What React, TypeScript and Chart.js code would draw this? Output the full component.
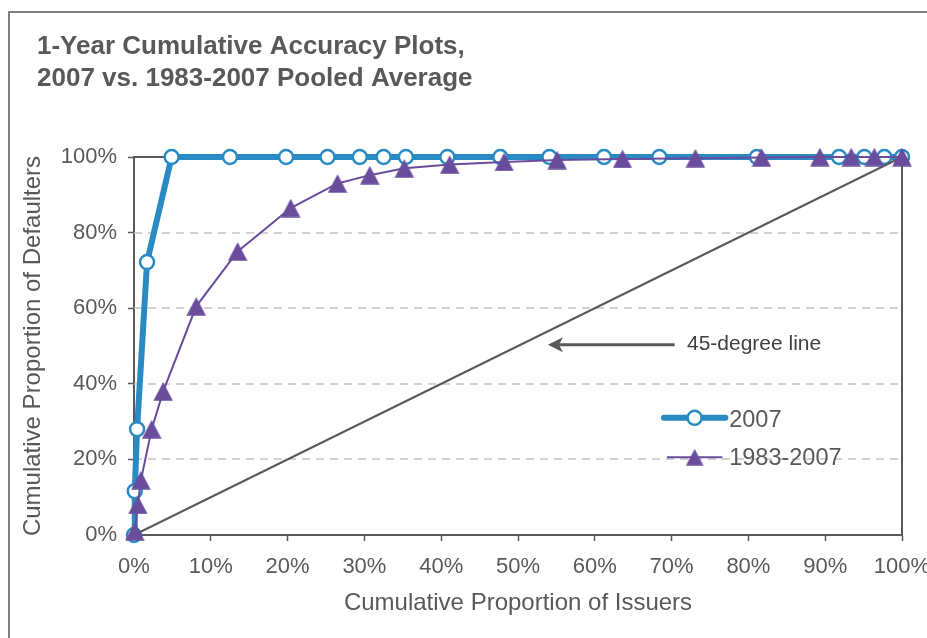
import React, { useEffect, useRef } from 'react';
import { Chart, registerables } from 'chart.js';

Chart.register(...registerables);

// ---------- data ----------
const chartTitle = ['1-Year Cumulative Accuracy Plots,', '2007 vs. 1983-2007 Pooled Average'];
const xAxisTitle = 'Cumulative Proportion of Issuers';
const yAxisTitle = 'Cumulative Proportion of Defaulters';
const seriesNames = ['2007', '1983-2007'];
const annotationText = '45-degree line';

// 2007 series (x = % of issuers, y = % of defaulters)
const issuers2007 = [0, 0.1, 0.4, 1.7, 4.9, 12.5, 19.8, 25.2, 29.4, 32.5, 35.4, 40.8, 47.7, 54.1, 61.2, 68.4, 81.1, 91.8, 95.1, 97.7, 100];
const defaulters2007 = [0, 11.6, 28, 72.2, 100, 100, 100, 100, 100, 100, 100, 100, 100, 100, 100, 100, 100, 100, 100, 100, 100];

// 1983-2007 pooled average
const issuersPooled = [0.1, 0.5, 0.9, 2.3, 3.8, 8.1, 13.5, 20.4, 26.5, 30.7, 35.2, 41.1, 48.2, 55.1, 63.6, 73.1, 81.7, 89.3, 93.4, 96.4, 100];
const defaultersPooled = [1, 8, 14.5, 28, 38, 60.5, 75, 86.5, 93, 95.2, 97, 98, 98.7, 99.2, 99.5, 99.7, 99.9, 100, 100, 100, 100];

// 45-degree reference line
const diagonalX = [0, 100];
const diagonalY = [0, 100];

// placement of in-plot legend and annotation (in data units)
const legendLineX = [69.0, 77.0];
const legendTextX = 77.5;
const legendY = [31.0, 20.6];
const arrowTipX = 53.9;
const arrowTailX = 70.4;
const arrowY = 50.3;
const annotationX = 72.0;

// ---------- styles ----------
const FONT = '"Liberation Sans", Arial, Helvetica, sans-serif';
const TEXT = '#595959';
const AXIS = '#595959';
const BLUE = '#2A8BC4';
const PURPLE = '#6A4C9C';

function triangleImage(w: number, h: number, color: string): HTMLCanvasElement {
  const c = document.createElement('canvas');
  c.width = w;
  c.height = h;
  const g = c.getContext('2d')!;
  g.fillStyle = color;
  g.beginPath();
  g.moveTo(w / 2, 0.3);
  g.lineTo(w - 0.3, h - 0.3);
  g.lineTo(0.3, h - 0.3);
  g.closePath();
  g.fill();
  return c;
}

export default function App() {
  const ref = useRef<HTMLCanvasElement>(null);

  useEffect(() => {
    const canvas = ref.current!;
    const tri = triangleImage(20, 19, PURPLE);
    const legendTri = triangleImage(18, 17, PURPLE);

    const decor = {
      id: 'decor',
      beforeDraw(chart: any) {
        const { ctx } = chart;
        ctx.save();
        ctx.fillStyle = '#ffffff';
        ctx.fillRect(0, 0, chart.width, chart.height);
        ctx.strokeStyle = '#808080';
        ctx.lineWidth = 2;
        ctx.beginPath();
        ctx.moveTo(9, chart.height);
        ctx.lineTo(9, 12);
        ctx.lineTo(chart.width, 12);
        ctx.stroke();
        ctx.fillStyle = TEXT;
        ctx.font = `bold 26px ${FONT}`;
        ctx.textAlign = 'left';
        ctx.textBaseline = 'alphabetic';
        chartTitle.forEach((t, i) => ctx.fillText(t, 37, 54 + i * 32));
        ctx.restore();
      },
      beforeDatasetsDraw(chart: any) {
        const { ctx, chartArea: a } = chart;
        const y = chart.scales.y;
        ctx.save();
        ctx.strokeStyle = '#C4C4C4';
        ctx.lineWidth = 1.5;
        ctx.setLineDash([8, 6]);
        y.ticks.forEach((t: any) => {
          if (t.value > 0 && t.value < 100) {
            const py = Math.round(y.getPixelForValue(t.value));
            ctx.beginPath();
            ctx.moveTo(a.left, py);
            ctx.lineTo(a.right, py);
            ctx.stroke();
          }
        });
        ctx.setLineDash([]);
        ctx.strokeStyle = AXIS;
        ctx.lineWidth = 2;
        ctx.beginPath();
        ctx.moveTo(a.left, a.top);
        ctx.lineTo(a.right, a.top);
        ctx.lineTo(a.right, a.bottom);
        ctx.stroke();
        ctx.restore();
      },
      afterDatasetsDraw(chart: any) {
        const { ctx } = chart;
        const xs = chart.scales.x;
        const ys = chart.scales.y;
        const px = (v: number) => xs.getPixelForValue(v);
        const py = (v: number) => ys.getPixelForValue(v);
        ctx.save();
        // arrow annotation
        const ay = py(arrowY);
        const tip = px(arrowTipX);
        const tail = px(arrowTailX);
        ctx.strokeStyle = AXIS;
        ctx.fillStyle = AXIS;
        ctx.lineWidth = 3;
        ctx.beginPath();
        ctx.moveTo(tail, ay);
        ctx.lineTo(tip + 10, ay);
        ctx.stroke();
        ctx.beginPath();
        ctx.moveTo(tip, ay);
        ctx.lineTo(tip + 15, ay - 7.5);
        ctx.lineTo(tip + 11, ay);
        ctx.lineTo(tip + 15, ay + 7.5);
        ctx.closePath();
        ctx.fill();
        ctx.fillStyle = '#404040';
        ctx.font = `21px ${FONT}`;
        ctx.textAlign = 'left';
        ctx.textBaseline = 'middle';
        ctx.fillText(annotationText, px(annotationX), ay - 1);

        // legend
        const x0 = px(legendLineX[0]);
        const x1 = px(legendLineX[1]);
        const xm = (x0 + x1) / 2;
        const y1 = py(legendY[0]);
        const y2 = py(legendY[1]);
        ctx.lineCap = 'round';
        ctx.strokeStyle = BLUE;
        ctx.lineWidth = 6;
        ctx.beginPath();
        ctx.moveTo(x0, y1);
        ctx.lineTo(x1, y1);
        ctx.stroke();
        ctx.fillStyle = '#ffffff';
        ctx.lineWidth = 2.5;
        ctx.beginPath();
        ctx.arc(xm, y1, 7, 0, Math.PI * 2);
        ctx.fill();
        ctx.stroke();
        ctx.lineCap = 'butt';
        ctx.strokeStyle = PURPLE;
        ctx.lineWidth = 2;
        ctx.beginPath();
        ctx.moveTo(x0 + 3, y2);
        ctx.lineTo(x1 - 3, y2);
        ctx.stroke();
        ctx.drawImage(legendTri, xm - legendTri.width / 2, y2 - legendTri.height / 2);
        ctx.fillStyle = TEXT;
        ctx.font = `23.5px ${FONT}`;
        ctx.textBaseline = 'middle';
        ctx.fillText(seriesNames[0], px(legendTextX), y1 + 3);
        ctx.fillText(seriesNames[1], px(legendTextX), y2 + 1);
        ctx.restore();
      },
    };

    const chart = new Chart(canvas, {
      type: 'line',
      data: {
        datasets: [
          {
            label: seriesNames[1],
            data: issuersPooled.map((x, i) => ({ x, y: defaultersPooled[i] })),
            borderColor: PURPLE,
            backgroundColor: PURPLE,
            borderWidth: 2,
            pointStyle: tri as any,
            pointRadius: 10,
            pointHoverRadius: 10,
            clip: false as any,
          },
          {
            label: annotationText,
            data: diagonalX.map((x, i) => ({ x, y: diagonalY[i] })),
            borderColor: AXIS,
            borderWidth: 2,
            pointRadius: 0,
            clip: false as any,
          },
          {
            label: seriesNames[0],
            data: issuers2007.map((x, i) => ({ x, y: defaulters2007[i] })),
            borderColor: BLUE,
            backgroundColor: '#ffffff',
            borderWidth: 6,
            borderJoinStyle: 'round',
            borderCapStyle: 'round',
            pointStyle: 'circle',
            pointRadius: 7,
            pointHoverRadius: 7,
            pointBorderWidth: 2.5,
            pointBackgroundColor: '#ffffff',
            pointBorderColor: BLUE,
            clip: false as any,
          },
        ],
      },
      options: {
        animation: false,
        responsive: false,
        events: [],
        layout: { autoPadding: false, padding: { top: 157, right: 25, bottom: 0, left: 0 } },
        plugins: { legend: { display: false }, tooltip: { enabled: false }, title: { display: false } },
        scales: {
          x: {
            type: 'linear',
            min: 0,
            max: 100,
            afterFit: (s: any) => { s.height = 103; s.paddingLeft = 0; s.paddingRight = 0; },
            ticks: {
              stepSize: 10,
              autoSkip: false,
              maxRotation: 0,
              padding: 13,
              color: TEXT,
              font: { family: FONT, size: 22 },
              callback: (v: any) => `${v}%`,
            },
            grid: { drawOnChartArea: false, drawTicks: true, tickLength: 6, tickColor: AXIS, tickWidth: 1.5 },
            border: { display: true, color: AXIS, width: 2 },
            title: {
              display: true,
              text: xAxisTitle,
              color: TEXT,
              font: { family: FONT, size: 24 },
              padding: { top: 0, bottom: 20 },
            },
          },
          y: {
            type: 'linear',
            min: 0,
            max: 100,
            afterFit: (s: any) => { s.width = 134; s.paddingTop = 0; s.paddingBottom = 0; },
            ticks: {
              stepSize: 20,
              padding: 11,
              color: TEXT,
              font: { family: FONT, size: 22 },
              callback: (v: any) => `${v}%`,
            },
            grid: { drawOnChartArea: false, drawTicks: true, tickLength: 6, tickColor: AXIS, tickWidth: 1.5 },
            border: { display: true, color: AXIS, width: 2 },
            title: {
              display: true,
              text: yAxisTitle,
              color: TEXT,
              font: { family: FONT, size: 24 },
              padding: { top: 19, bottom: 0 },
            },
          },
        },
      },
      plugins: [decor],
    } as any);

    return () => chart.destroy();
  }, []);

  return (
    <div style={{ position: 'fixed', left: 0, top: 0, width: 927, height: 638 }}>
      <canvas ref={ref} width={927} height={638} style={{ width: 927, height: 638, display: 'block' }} />
    </div>
  );
}
